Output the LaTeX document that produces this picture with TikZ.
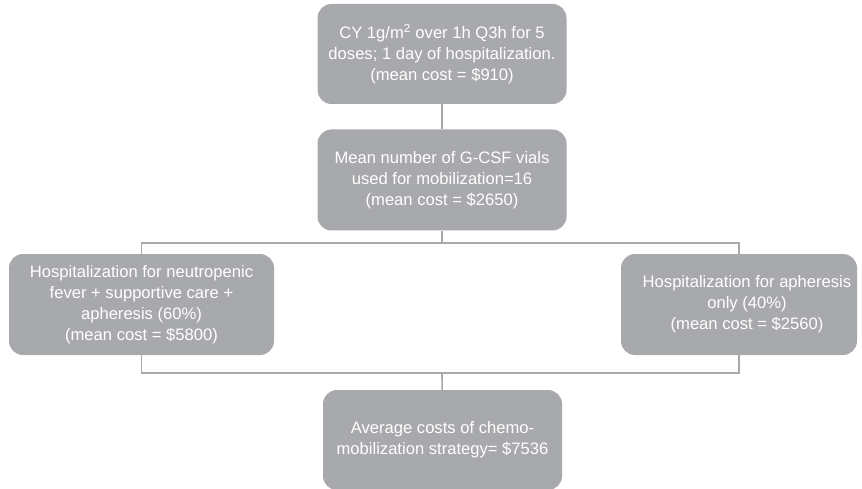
\documentclass[tikz,border=0pt]{standalone}
\usepackage{fontspec}
\setmainfont{Liberation Sans}
\usepackage{tikz}
\usetikzlibrary{positioning}
\definecolor{boxgray}{HTML}{A8A9AC}
\definecolor{linegray}{HTML}{A9A9A9}
\tikzset{
	costbox/.style={
		rectangle, rounded corners=14pt, fill=boxgray,
		text=white, align=center, inner sep=1pt,
		font=\fontsize{16.6}{21}\selectfont
	},
	link/.style={draw=linegray, line width=1.6pt}
}

\begin{document}
\begin{tikzpicture}[x=1pt,y=-1pt]
				\useasboundingbox (0,0) rectangle (862,489);
				\node[costbox, minimum width=249pt, minimum height=100pt] (chemo) at (442,54) {CY 1g/m\textsuperscript{2} over 1h Q3h for 5\\doses; 1 day of hospitalization.\\(mean cost = \$910)};
				\node[costbox, minimum width=249pt, minimum height=101pt] (gcsf) at (442,180) {Mean number of G-CSF vials\\used for mobilization=16\\(mean cost = \$2650)};
				\node[costbox, minimum width=265pt, minimum height=101pt] (fever) at (141.5,304.5) {Hospitalization for neutropenic\\fever + supportive care +\\apheresis (60\%)\\(mean cost = \$5800)};
				\node[costbox, minimum width=236pt, minimum height=101pt] (apher) at (739,304.5) {\hspace*{16pt}Hospitalization for apheresis\\\hspace*{16pt}only (40\%)\\\hspace*{16pt}(mean cost = \$2560)};
				\node[costbox, minimum width=239pt, minimum height=100pt] (total) at (442.5,440) {Average costs of chemo-\\mobilization strategy= \$7536};
				\coordinate (split) at (442,243);
				\coordinate (merge) at (442,373);
				\draw[link] (chemo) -- (gcsf);
				\draw[link] (gcsf) -- (split);
				\draw[link] (fever.north) |- (split) -| (apher.north);
				\draw[link] (fever.south) |- (merge) -| (apher.south);
				\draw[link] (merge) -- (total);
			\end{tikzpicture}
\end{document}
